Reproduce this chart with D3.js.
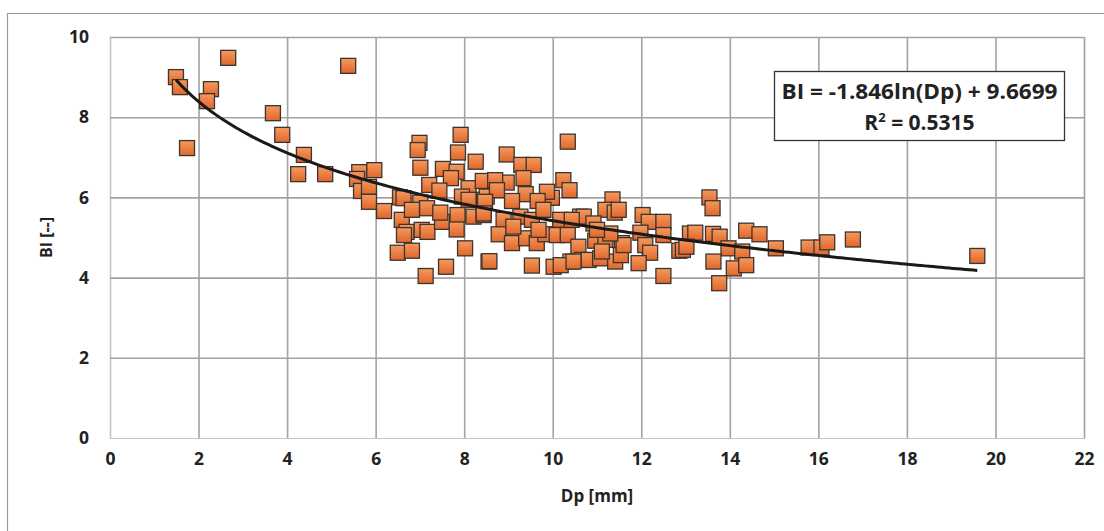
<!DOCTYPE html>
<html><head><meta charset="utf-8">
<script src="https://cdn.jsdelivr.net/npm/d3@7"></script>
<style>body{margin:0;background:#fff;}svg{display:block;}</style>
</head><body>
<svg id="c" width="1104" height="531"></svg>
<script>
const dp = [1.49,1.58,2.67,2.28,2.19,1.74,5.38,3.68,3.89,4.38,4.25,4.86,5.63,5.97,5.58,5.67,5.85,5.85,6.19,6.55,
7.92,6.99,6.95,7.86,8.26,7.01,7.52,7.83,7.70,7.21,7.44,8.10,8.42,6.63,6.59,7.01,7.16,6.82,6.70,7.04,7.17,6.64,7.50,7.46,7.85,7.83,7.95,8.10,8.21,8.44,8.45,6.50,6.82,8.02,7.59,7.13,8.55,8.51,
10.34,8.96,9.29,9.57,9.34,8.96,8.70,10.24,10.38,9.98,9.87,9.39,9.66,9.08,8.74,8.47,8.44,8.89,9.27,9.53,9.79,10.17,10.62,8.78,9.08,9.40,9.64,9.83,10.09,10.34,10.58,10.40,8.57,9.53,10.02,10.18,10.66,9.11,9.68,
11.35,11.19,11.40,11.49,10.70,10.92,12.03,12.17,12.50,12.50,11.98,10.96,11.19,11.56,12.09,10.81,11.07,11.41,11.54,12.20,11.94,12.50,12.86,13.10,10.43,10.47,11.60,11.30,11.00,11.11,
13.54,13.61,13.22,13.62,13.77,12.94,13.02,13.97,14.28,14.37,14.67,13.63,14.09,14.37,13.76,15.04,15.78,16.07,16.20,16.78,19.59];
const bi = [9.00,8.75,9.48,8.70,8.40,7.23,9.28,8.10,7.56,7.06,6.58,6.58,6.63,6.68,6.46,6.16,6.26,5.89,5.66,6.00,
7.56,7.36,7.18,7.12,6.89,6.74,6.71,6.64,6.48,6.31,6.17,6.23,6.41,5.98,5.44,5.87,5.73,5.69,5.14,5.19,5.14,5.06,5.39,5.62,5.56,5.20,6.02,5.94,5.52,5.56,5.94,4.62,4.67,4.73,4.27,4.04,4.40,6.02,
7.39,7.07,6.81,6.81,6.48,6.37,6.43,6.43,6.18,5.99,6.14,6.08,5.91,5.91,6.18,5.89,5.60,5.44,5.52,5.44,5.69,5.44,5.52,5.08,4.86,4.98,4.86,5.08,5.06,5.06,4.77,4.40,4.41,4.30,4.27,4.31,4.44,5.27,5.19,
5.95,5.69,5.62,5.69,5.52,5.35,5.56,5.39,5.39,5.06,5.12,4.92,4.94,4.86,4.81,4.44,4.48,4.40,4.56,4.62,4.36,4.04,4.67,5.10,5.44,4.40,4.81,5.10,5.19,4.65,
6.00,5.73,5.12,5.09,5.02,4.69,4.77,4.73,4.65,5.17,5.08,4.40,4.23,4.31,3.86,4.73,4.75,4.75,4.88,4.95,4.54];
const xTicks = [0,2,4,6,8,10,12,14,16,18,20,22];
const yTicks = [0,2,4,6,8,10];
const fitA = -1.846, fitB = 9.6699;
const eqLine1 = "BI = -1.846ln(Dp) + 9.6699";
const r2Text = "0.5315";

const svg = d3.select("#c");
const x = d3.scaleLinear().domain([0,22]).range([110,1084]);
const y = d3.scaleLinear().domain([0,10]).range([438,37]);
const font = "'Open Sans', Lato, sans-serif";

// outer frame
svg.append("path").attr("d","M7.5,531 V13.5 H1104").attr("fill","none").attr("stroke","#9a9a9a").attr("stroke-width",1.2);

// gridlines
const gx = svg.append("g").attr("transform","translate(0,438)")
  .call(d3.axisBottom(x).tickValues(xTicks).tickSize(-401).tickFormat(d3.format("d")).tickPadding(15));
const gy = svg.append("g").attr("transform","translate(110,0)")
  .call(d3.axisLeft(y).tickValues(yTicks).tickSize(-974).tickFormat(d3.format("d")).tickPadding(21));
[gx,gy].forEach(g=>{
  g.select(".domain").attr("stroke","#c4c4c4").attr("stroke-width",1.2);
  g.selectAll(".tick line").attr("stroke","#a3a3a3").attr("stroke-width",1.6);
  g.selectAll(".tick text").attr("fill","#222").style("font-family",font).style("font-weight","bold").style("font-size","17.5px");
});
gx.selectAll(".tick").filter(d=>d===0).select("line").attr("stroke","#c4c4c4").attr("stroke-width",1.2);
gy.selectAll(".tick").filter(d=>d===0).select("line").attr("stroke","#c4c4c4").attr("stroke-width",1.2);

// gradient
const defs = svg.append("defs");
const lg = defs.append("linearGradient").attr("id","og").attr("x1",0).attr("y1",0).attr("x2",0).attr("y2",1);
lg.append("stop").attr("offset","0%").attr("stop-color","#f59a5e");
lg.append("stop").attr("offset","100%").attr("stop-color","#e0662b");

const s = 15;
svg.append("g").selectAll("rect").data(dp.map((d,i)=>[d,bi[i]])).join("rect")
  .attr("x",d=>x(d[0])-s/2).attr("y",d=>y(d[1])-s/2).attr("width",s).attr("height",s)
  .attr("fill","url(#og)").attr("stroke","#3b3530").attr("stroke-width",1.3);

// trendline
const xs = d3.range(0,201).map(i=>d3.min(dp)+(d3.max(dp)-d3.min(dp))*i/200);
svg.append("path").datum(xs)
  .attr("d",d3.line().x(d=>x(d)).y(d=>y(fitA*Math.log(d)+fitB)).curve(d3.curveLinear))
  .attr("fill","none").attr("stroke","#1c1a19").attr("stroke-width",3);

// equation box
svg.append("rect").attr("x",774.5).attr("y",71.5).attr("width",290).attr("height",69)
  .attr("fill","#fff").attr("stroke","#333").attr("stroke-width",1.3);
svg.append("text").attr("x",919.5).attr("y",99).attr("text-anchor","middle")
  .style("font-family",font).style("font-weight","bold").style("font-size","20.5px").attr("fill","#222")
  .attr("textLength",276).attr("lengthAdjust","spacingAndGlyphs")
  .text(eqLine1);
const t2 = svg.append("text").attr("x",919.5).attr("y",130).attr("text-anchor","middle")
  .style("font-family",font).style("font-weight","bold").style("font-size","21px").attr("fill","#222");
t2.append("tspan").text("R");
t2.append("tspan").attr("dy",-8).style("font-size","13px").text("2");
t2.append("tspan").attr("dy",8).text(" = " + r2Text);

// axis titles
svg.append("text").attr("x",597).attr("y",502).attr("text-anchor","middle")
  .style("font-family",font).style("font-weight","bold").style("font-size","17px").attr("fill","#222").text("Dp [mm]");
svg.append("text").attr("transform","translate(52,237.5) rotate(-90)").attr("text-anchor","middle")
  .style("font-family",font).style("font-weight","bold").style("font-size","16px").attr("fill","#222").text("BI [--]");
</script>
</body></html>
